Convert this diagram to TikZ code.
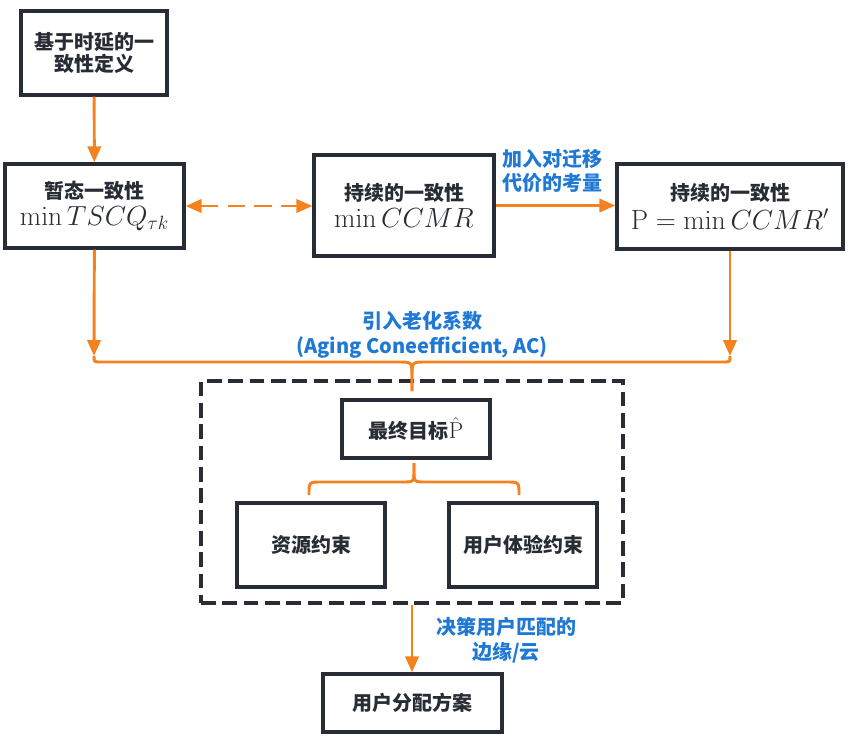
\documentclass[tikz,border=0pt]{standalone}
\usepackage{amsmath}
\usepackage[no-math]{fontspec}
\setmainfont{Noto Sans CJK SC}
\usepackage{tikz}
\usetikzlibrary{arrows.meta}

\definecolor{flowOrange}{RGB}{245,130,31}
\definecolor{noteBlue}{RGB}{30,120,212}
\definecolor{boxGray}{RGB}{40,44,52}

\newcommand{\bigmath}[1]{{\fontsize{20}{22}\selectfont$#1$}}

\begin{document}
\begin{tikzpicture}[x=0.75pt,y=-0.75pt,
  box/.style={draw=boxGray,line width=2.5pt,text=boxGray,font=\fontsize{15}{16.5}\selectfont\bfseries,align=center,inner sep=0pt},
  flow/.style={draw=flowOrange,line width=2.2pt,-{Triangle[length=12pt,width=10pt]}},
  bracket/.style={draw=flowOrange,line width=2.2pt},
  note/.style={text=noteBlue,font=\fontsize{15}{18.5}\selectfont\bfseries,align=center,inner sep=0pt}]

        % Fix the page size
        \useasboundingbox (0,0) rectangle (853,744);

        % Draw the top row of boxes
        \node[box,minimum width=109.5pt,minimum height=63pt] (defn) at (94,53) {基于时延的一\\致性定义};
        \node[box,minimum width=134.25pt,minimum height=63pt] (trans) at (94.5,206) {暂态一致性\\[4pt]\bigmath{\min TSCQ_{\tau k}}};
        \node[box,minimum width=135pt,minimum height=75.75pt] (cont) at (404,205.5) {持续的一致性\\[4pt]\bigmath{\min CCMR}};
        \node[box,minimum width=169.5pt,minimum height=63.75pt] (contP) at (730,206.5) {持续的一致性\\[4pt]\bigmath{\mathrm{P}=\min CCMR'}};

        % Draw the arrows between them
        \draw[flow] (defn) -- (trans);
        \draw[flow,{Triangle[length=12pt,width=10pt]}-{Triangle[length=12pt,width=10pt]},dash pattern=on 13pt off 7pt] (trans) -- (trans -| cont.west);
        \draw[flow] (cont.east) -- (cont.east -| contP.west);
        \node[note] (migr) at (552,171) {加入对迁移\\代价的考量};

        % Draw the dashed frame with the goal and constraints
        \node[draw=boxGray,line width=2.5pt,dash pattern=on 11pt off 5pt,minimum width=316.5pt,minimum height=166.5pt] (frame) at (412,492) {};
        \node[box,minimum width=111pt,minimum height=43.5pt] (final) at (416,429) {最终目标{\fontsize{17}{19}\selectfont$\hat{\mathrm{P}}$}};
        \node[box,minimum width=111pt,minimum height=63pt] (res) at (311,545) {资源约束};
        \node[box,minimum width=111pt,minimum height=63pt] (ux) at (523,545) {用户体验约束};

        % Draw the upper brace
        \coordinate (bl) at (94,356);
        \coordinate (br) at (730,356);
        \coordinate (btip) at (412,391);
        \draw[flow] (trans) -- (bl);
        \draw[flow] (contP) -- (br);
        \draw[bracket] (bl) .. controls (94,362) .. (101,362) -- (398,362) .. controls (412,362) .. (412,376) -- (btip);
        \draw[bracket] (br) .. controls (730,362) .. (723,362) -- (426,362) .. controls (412,362) .. (412,376) -- (btip);
        \node[note] (aging) at (422,335) {引入老化系数\\(Aging Coneefficient, AC)};

        % Draw the lower brace
        \coordinate (ftip) at (414,463);
        \coordinate (fl) at (309,495);
        \coordinate (fr) at (519,495);
        \draw[bracket] (ftip) -- (414,470) .. controls (414,482) .. (402,482) -- (321,482) .. controls (309,482) .. (fl);
        \draw[bracket] (ftip) -- (414,470) .. controls (414,482) .. (426,482) -- (507,482) .. controls (519,482) .. (fr);

        % Draw the final plan
        \node[box,minimum width=134.25pt,minimum height=43.5pt] (plan) at (412.5,703) {用户分配方案};
        \draw[flow] (frame.south) -- (frame.south |- plan.north);
        \node[note] (decide) at (506,640) {决策用户匹配的\\边缘/云};
\end{tikzpicture}
\end{document}
